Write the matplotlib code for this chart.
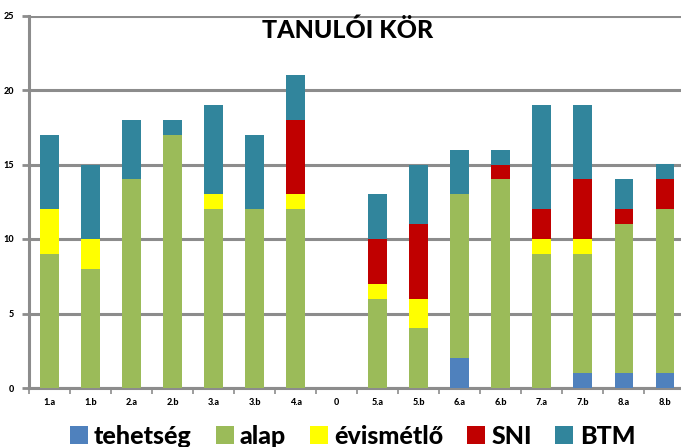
import matplotlib.pyplot as plt
import numpy as np

plt.rcParams["font.family"] = ["Lato", "DejaVu Sans"]

categories = ["1.a", "1.b", "2.a", "2.b", "3.a", "3.b", "4.a", "0",
              "5.a", "5.b", "6.a", "6.b", "7.a", "7.b", "8.a", "8.b"]
tehetseg = [0, 0, 0, 0, 0, 0, 0, 0, 0, 0, 2, 0, 0, 1, 1, 1]
alap = [9, 8, 14, 17, 12, 12, 12, 0, 6, 4, 11, 14, 9, 8, 10, 11]
evismetlo = [3, 2, 0, 0, 1, 0, 1, 0, 1, 2, 0, 0, 1, 1, 0, 0]
sni = [0, 0, 0, 0, 0, 0, 5, 0, 3, 5, 0, 1, 2, 4, 1, 2]
btm = [5, 5, 4, 1, 6, 5, 3, 0, 3, 4, 3, 1, 7, 5, 2, 1]

series = [
    ("tehetség", tehetseg, "#4F81BD"),
    ("alap", alap, "#9BBB59"),
    ("évismétlő", evismetlo, "#FFFF00"),
    ("SNI", sni, "#C00000"),
    ("BTM", btm, "#31859C"),
]

fig = plt.figure(figsize=(6.81, 4.47), dpi=100)
ax = fig.add_axes([29 / 681, 1 - 388 / 447, 656.5 / 681, (388 - 15.5) / 447])

x = np.arange(len(categories))
bottom = np.zeros(len(categories))
for label, vals, color in series:
    ax.bar(x, vals, width=0.46, bottom=bottom, color=color, label=label, zorder=3)
    bottom += np.array(vals)

# axes styling
grid_color = "#8c8c8c"
ax.set_xlim(-0.5, len(categories) - 0.5)
ax.set_ylim(0, 25)
ax.set_yticks(range(0, 26, 5))
ax.yaxis.grid(True, color=grid_color, linewidth=2.2, zorder=0)
ax.set_axisbelow(True)
for s in ["top", "right"]:
    ax.spines[s].set_visible(False)
for s in ["left", "bottom"]:
    ax.spines[s].set_color(grid_color)
    ax.spines[s].set_linewidth(2.2)

ax.set_xticks(x)
ax.set_xticklabels(categories, fontsize=6.5, fontweight="black")
ax.tick_params(axis="x", which="major", length=0, pad=7)
ax.set_xticks(np.arange(-0.5, len(categories), 1), minor=True)
ax.tick_params(axis="x", which="minor", length=4, width=1.2, color=grid_color)
ax.tick_params(axis="y", length=5, width=2, color=grid_color, pad=6,
               labelsize=6.5)
for t in ax.get_yticklabels():
    t.set_fontweight("black")

fig.text(347.5 / 681, 1 - 38 / 447, "TANULÓI KÖR", ha="center", va="baseline",
         fontsize=18, fontweight="black")

fig.legend(loc="center", bbox_to_anchor=(352.5 / 681, 1 - 436 / 447), ncol=5,
           frameon=False, prop={"size": 18, "weight": "black"},
           handlelength=0.72, handleheight=0.72, handletextpad=0.25,
           columnspacing=0.95, borderpad=0)

fig.savefig("out.png", dpi=100)
